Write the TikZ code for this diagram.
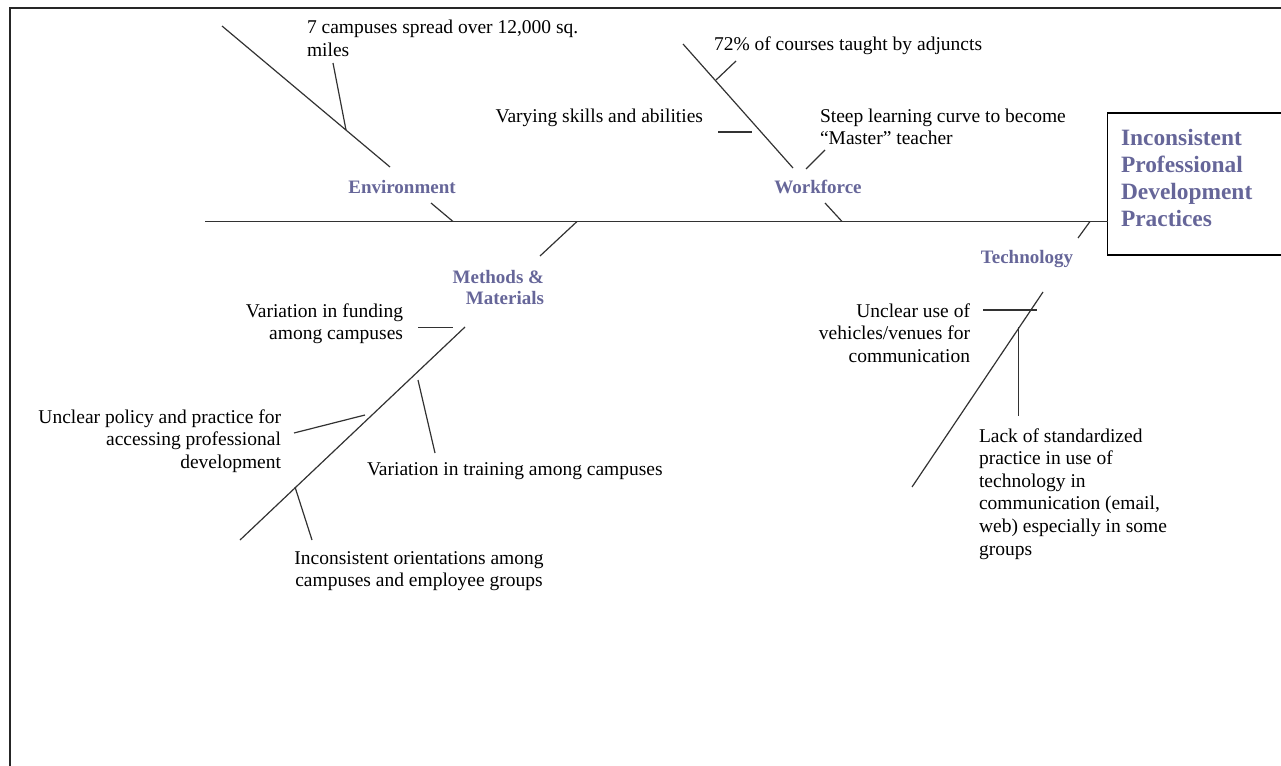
\documentclass[tikz,border=0pt]{standalone}
\usepackage{fontspec}
\setmainfont{Liberation Serif}
\definecolor{slate}{RGB}{102,102,153}
\definecolor{bonegray}{RGB}{50,50,50}
\begin{document}
\begin{tikzpicture}[x=1pt,y=-1pt,
  bone/.style={line width=1.2pt, draw=bonegray},
  body/.style={font=\fontsize{19.5}{22.6}\selectfont, inner sep=0pt, outer sep=0pt},
  lbl/.style={font=\bfseries\fontsize{19}{21.5}\selectfont, text=slate, inner sep=0pt, outer sep=0pt},
  headtxt/.style={font=\bfseries\fontsize{23.4}{27}\selectfont, text=slate, inner sep=0pt, outer sep=0pt, align=left}]
\useasboundingbox (0,0) rectangle (1281,765);
\clip (0,0) rectangle (1281,765);

% frame
\draw[line width=1.3pt, draw=black!85] (10,770) -- (10,8) -- (1290,8);

% head box (last-line baselines are given for multi-line nodes)
\draw[line width=1.3pt] (1290,113) -- (1107.5,113) -- (1107.5,255) -- (1290,255);
\node[headtxt, anchor=base west] (head) at (1121,226) {Inconsistent\\Professional\\Development\\Practices};

% spine
\coordinate (spL) at (205,221.5);
\coordinate (spR) at (1107.5,221.5);
\draw[bone] (spL) -- (spR);

% ---------- Environment ----------
\node[lbl, anchor=base] (env) at (402,193) {Environment};
\coordinate (envA) at (431,203);
\coordinate (envB) at (453,221.5);
\draw[bone] (envA) -- (envB);
\coordinate (envT) at (222,26);
\coordinate (envE) at (390,167);
\draw[bone] (envT) -- (envE);
\coordinate (env1a) at (346,130);
\coordinate (env1b) at (333,63);
\draw[bone] (env1a) -- (env1b);
\node[body, anchor=base west, align=left] (env1) at (307,56.6) {7 campuses spread over 12,000 sq.\\miles};

% ---------- Workforce ----------
\node[lbl, anchor=base] (wf) at (818,193) {Workforce};
\coordinate (wfA) at (825,203);
\coordinate (wfB) at (842,221.5);
\draw[bone] (wfA) -- (wfB);
\coordinate (wfT) at (683,44);
\coordinate (wfE) at (793,168);
\draw[bone] (wfT) -- (wfE);
\coordinate (wf1a) at (716,80);
\coordinate (wf1b) at (736,61);
\draw[bone] (wf1a) -- (wf1b);
\node[body, anchor=base west] (wf1) at (714,51) {72\% of courses taught by adjuncts};
\coordinate (wf2a) at (718,132);
\coordinate (wf2b) at (752,132);
\draw[bone] (wf2a) -- (wf2b);
\node[body, anchor=base east] (wf2) at (703,122) {Varying skills and abilities};
\coordinate (wf3a) at (806,169);
\coordinate (wf3b) at (825,150);
\draw[bone] (wf3a) -- (wf3b);
\node[body, anchor=base west, align=left] (wf3) at (820,144.6) {Steep learning curve to become\\``Master'' teacher};

% ---------- Methods & Materials ----------
\node[lbl, anchor=base east, align=right] (mm) at (544,304.5) {Methods \&\\Materials};
\coordinate (mmA) at (540,256);
\coordinate (mmB) at (577,221.5);
\draw[bone] (mmA) -- (mmB);
\coordinate (mmT) at (465,327);
\coordinate (mmE) at (240,540);
\draw[bone] (mmT) -- (mmE);
\coordinate (mm1a) at (418,327.5);
\coordinate (mm1b) at (453,327.5);
\draw[bone] (mm1a) -- (mm1b);
\node[body, anchor=base east, align=right] (mm1) at (403,339.6) {Variation in funding\\among campuses};
\coordinate (mm2a) at (294,433);
\coordinate (mm2b) at (365,415);
\draw[bone] (mm2a) -- (mm2b);
\node[body, anchor=base east, align=right] (mm2) at (281,468.2) {Unclear policy and practice for\\accessing professional\\development};
\coordinate (mm3a) at (418,380);
\coordinate (mm3b) at (435,453);
\draw[bone] (mm3a) -- (mm3b);
\node[body, anchor=base west] (mm3) at (367,475) {Variation in training among campuses};
\coordinate (mm4a) at (295,487);
\coordinate (mm4b) at (312,540);
\draw[bone] (mm4a) -- (mm4b);
\node[body, anchor=base, align=center] (mm4) at (419,586.6) {Inconsistent orientations among\\campuses and employee groups};

% ---------- Technology ----------
\node[lbl, anchor=base] (tech) at (1027,263) {Technology};
\coordinate (tA) at (1078,238);
\coordinate (tB) at (1090,221.5);
\draw[bone] (tA) -- (tB);
\coordinate (tT) at (1043,292);
\coordinate (tE) at (912,487);
\draw[bone] (tT) -- (tE);
\coordinate (t1a) at (983,310);
\coordinate (t1b) at (1037,310);
\draw[bone] (t1a) -- (t1b);
\node[body, anchor=base east, align=right] (t1) at (970,362.2) {Unclear use of\\vehicles/venues for\\communication};
\coordinate (t2a) at (1018.5,327);
\coordinate (t2b) at (1018.5,416);
\draw[bone] (t2a) -- (t2b);
\node[body, anchor=base west, align=left] (t2) at (979,555) {Lack of standardized\\practice in use of\\technology in\\communication (email,\\web) especially in some\\groups};
\end{tikzpicture}
\end{document}
